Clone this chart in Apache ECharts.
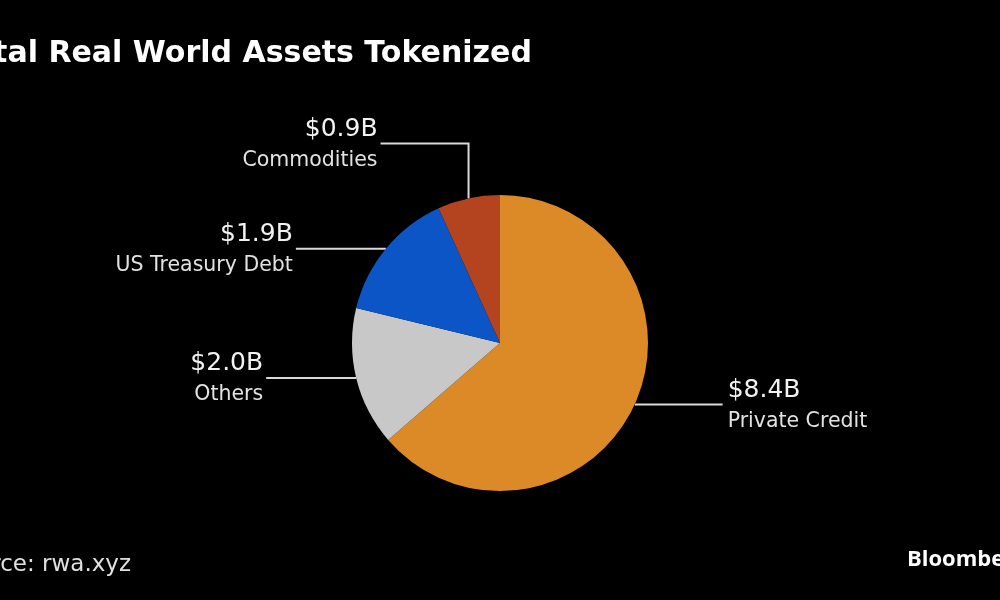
<!DOCTYPE html>
<html>
<head>
<meta charset="utf-8">
<script src="https://cdn.jsdelivr.net/npm/echarts@6/dist/echarts.min.js"></script>
<style>
html,body{margin:0;padding:0;background:#000;}
#chart{width:1000px;height:600px;}
</style>
</head>
<body>
<div id="chart"></div>
<script>
const categories = ['Private Credit', 'Others', 'US Treasury Debt', 'Commodities'];
const values = [8.4, 2.0, 1.9, 0.9];
const valueLabels = ['$8.4B', '$2.0B', '$1.9B', '$0.9B'];
const colors = ['#DC8A28', '#C8C8C8', '#0C55C6', '#B4441F'];

// leader-line styling per slice (direction, horizontal length, vertical rise)
const leaders = [
  { dir: 1, len: 88, up: 0 },
  { dir: -1, len: 90, up: 0 },
  { dir: -1, len: 90, up: 0 },
  { dir: -1, len: 88, up: 55 }
];

const CX = 500, CY = 343, R = 148;
const total = values.reduce((a, b) => a + b, 0);
function anchorFor(i) {
  let cum = 0;
  for (let k = 0; k < i; k++) cum += values[k];
  const mid = (cum + values[i] / 2) / total * 2 * Math.PI;
  return [CX + R * Math.sin(mid), CY - R * Math.cos(mid)];
}

const chart = echarts.init(document.getElementById('chart'), null, { renderer: 'canvas' });
chart.setOption({
  backgroundColor: '#000',
  animation: false,
  title: [
    { text: 'Total Real World Assets Tokenized', left: -49, top: 34,
      textStyle: { color: '#FFFFFF', fontFamily: 'DejaVu Sans', fontWeight: 'bold', fontSize: 30 } },
    { text: 'Source: rwa.xyz', left: -57, top: 549,
      textStyle: { color: '#E0E0E0', fontFamily: 'DejaVu Sans', fontWeight: 'normal', fontSize: 23 } },
    { text: 'Bloomberg', left: 902, top: 544,
      textStyle: { color: '#FFFFFF', fontFamily: 'Open Sans', fontWeight: 'bold', fontSize: 22 } }
  ],
  series: [{
    type: 'pie',
    center: [CX, CY],
    radius: R,
    startAngle: 90,
    clockwise: true,
    silent: true,
    emphasis: { disabled: true },
    itemStyle: { borderWidth: 0 },
    data: categories.map((c, i) => ({ name: c, value: values[i], itemStyle: { color: colors[i] } })),
    label: {
      show: true,
      position: 'outside',
      formatter: p => '{v|' + valueLabels[p.dataIndex] + '}\n{n|' + p.name + '}',
      rich: {
        v: { color: '#F2F2F2', fontFamily: 'DejaVu Sans', fontSize: 25, lineHeight: 34 },
        n: { color: '#E2E2E2', fontFamily: 'DejaVu Sans', fontSize: 20.5, lineHeight: 28 }
      }
    },
    labelLine: { show: true, length: 0, length2: 0, smooth: false,
      lineStyle: { color: '#D9D9D9', width: 2 } },
    labelLayout: function (params) {
      const i = params.dataIndex;
      const L = leaders[i];
      const a = anchorFor(i);
      const p1 = [a[0], a[1] - L.up];
      const p2 = [p1[0] + L.dir * L.len, p1[1]];
      return {
        x: p2[0] + (L.dir > 0 ? 5 : -3),
        y: p2[1],
        align: L.dir > 0 ? 'left' : 'right',
        verticalAlign: 'middle',
        labelLinePoints: [a, p1, p2]
      };
    }
  }]
});
</script>
</body>
</html>
